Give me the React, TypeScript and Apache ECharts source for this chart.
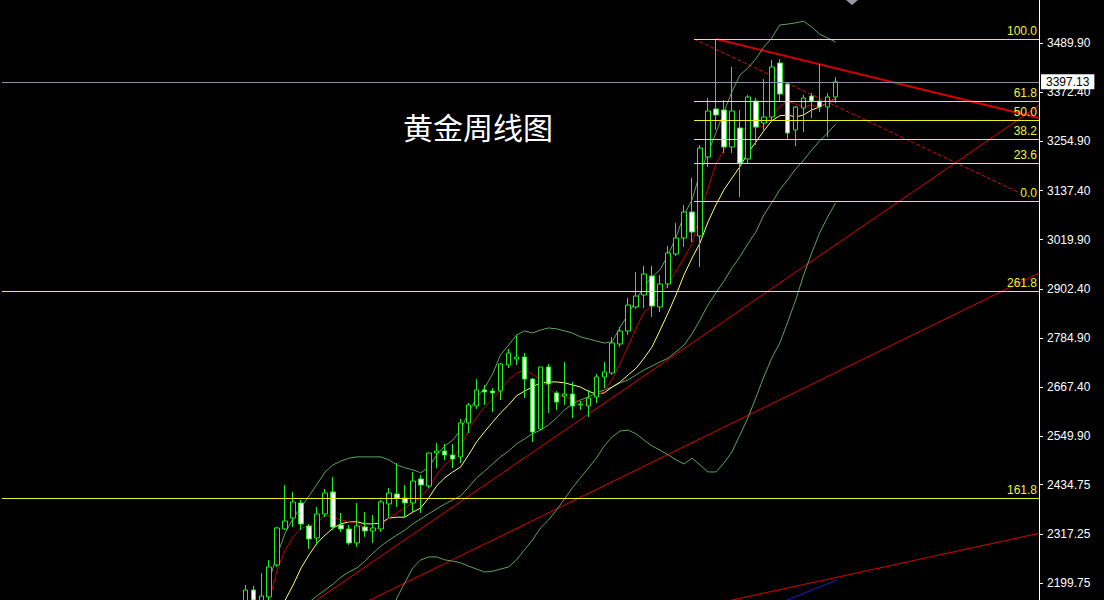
import { useEffect, useRef } from "react";
import * as echarts from "echarts";

const SLOTS = 130;
const FIRST_CANDLE = 30;

const opens = [
  2149.6, 2183.0, 2152.0, 2166.3, 2242.8, 2328.8, 2355.0, 2390.9, 2335.9, 2307.3,
  2364.6, 2417.2, 2338.3, 2328.8, 2295.3, 2333.5, 2324.0, 2328.8, 2388.5, 2412.4,
  2402.8, 2390.9, 2448.2, 2431.5, 2510.3, 2515.1, 2505.6, 2500.8, 2582.0, 2622.6,
  2660.9, 2658.5, 2658.5, 2720.6, 2734.9, 2739.7, 2687.1, 2567.7, 2715.8, 2653.7,
  2646.5, 2651.3, 2625.0, 2622.6, 2644.1, 2691.9, 2701.5, 2770.7, 2801.8, 2859.1,
  2887.8, 2933.2, 2859.1, 2914.1, 2985.8, 3024.0, 3086.1, 3028.8, 3217.5, 3332.2,
  3329.8, 3241.4, 3286.8, 3212.7, 3351.3, 3298.7, 3313.1, 3442.1, 3391.9, 3282.0,
  3334.6, 3363.2, 3351.3, 3337.0, 3360.9,
];
const closes = [
  2183.0, 2159.1, 2168.7, 2238.0, 2331.2, 2347.9, 2393.3, 2340.7, 2304.9, 2364.6,
  2414.8, 2333.5, 2328.8, 2295.3, 2335.9, 2324.0, 2331.2, 2393.3, 2414.8, 2402.8,
  2390.9, 2443.4, 2433.9, 2510.3, 2515.1, 2505.6, 2496.0, 2582.0, 2625.0, 2660.9,
  2656.1, 2653.7, 2723.0, 2749.2, 2739.7, 2687.1, 2560.5, 2715.8, 2675.2, 2632.2,
  2651.3, 2622.6, 2627.4, 2641.7, 2691.9, 2703.9, 2773.1, 2801.8, 2863.9, 2885.4,
  2938.0, 2861.5, 2914.1, 2988.2, 3024.0, 3086.1, 3038.3, 3239.0, 3327.4, 3317.9,
  3241.4, 3327.4, 3203.2, 3360.9, 3289.2, 3313.1, 3432.5, 3368.0, 3274.8, 3337.0,
  3358.5, 3351.3, 3337.0, 3360.9, 3397.13,
];
const highs = [
  2195.0, 2192.6, 2223.7, 2254.7, 2333.6, 2433.9, 2417.2, 2398.0, 2340.7, 2381.3,
  2424.3, 2453.0, 2367.0, 2338.3, 2390.9, 2369.4, 2362.2, 2398.0, 2426.7, 2486.4,
  2433.9, 2464.9, 2457.8, 2510.3, 2534.2, 2531.8, 2531.8, 2591.6, 2629.8, 2687.1,
  2672.8, 2665.6, 2725.4, 2758.8, 2792.3, 2749.2, 2689.5, 2715.8, 2723.0, 2658.5,
  2727.7, 2680.0, 2634.6, 2660.9, 2699.1, 2727.7, 2787.5, 2811.4, 2880.6, 2942.8,
  2957.1, 2957.1, 2935.6, 3004.9, 3059.8, 3102.8, 3167.3, 3246.2, 3358.5, 3499.4,
  3353.7, 3432.5, 3329.8, 3365.6, 3358.5, 3403.9, 3449.3, 3451.6, 3394.3, 3339.4,
  3365.6, 3370.4, 3439.7, 3370.4, 3408.6,
];
const lows = [
  2140.0, 2144.8, 2147.2, 2159.1, 2238.0, 2326.4, 2333.5, 2326.4, 2281.0, 2290.5,
  2357.4, 2326.4, 2321.6, 2290.5, 2285.8, 2309.6, 2295.3, 2321.6, 2355.0, 2381.3,
  2355.0, 2369.4, 2367.0, 2426.7, 2474.5, 2493.6, 2474.5, 2486.4, 2558.1, 2615.5,
  2625.0, 2608.3, 2637.0, 2713.4, 2720.6, 2641.7, 2536.6, 2565.3, 2605.9, 2613.1,
  2625.0, 2594.0, 2613.1, 2596.3, 2629.8, 2665.6, 2696.7, 2763.6, 2792.3, 2854.4,
  2856.8, 2835.3, 2847.2, 2904.5, 2981.0, 3002.5, 3014.4, 2954.7, 3193.6, 3282.0,
  3227.1, 3227.1, 3121.9, 3203.2, 3246.2, 3282.0, 3301.1, 3348.9, 3258.1, 3243.8,
  3277.2, 3310.7, 3325.0, 3265.3, 3346.5,
];

// red moving average (fast)
const maFastStart = 31;
const maFast = [
  2099, 2131, 2159, 2231, 2279, 2310, 2331, 2336, 2343, 2362,
  2357, 2350, 2346, 2343, 2331, 2324, 2336, 2355, 2367, 2379,
  2391, 2405, 2427, 2458, 2482, 2496, 2525, 2565, 2596, 2620,
  2639, 2661, 2685, 2701, 2709, 2699, 2685, 2668, 2649, 2644,
  2639, 2632, 2637, 2647, 2658, 2687, 2725, 2766, 2809, 2847,
  2862, 2888, 2914, 2945, 2976, 3010, 3081, 3143, 3201, 3234,
  3263, 3284, 3287, 3287, 3292, 3311, 3339, 3351, 3344, 3337,
  3342, 3337, 3347, 3358,
];
// yellow moving average (slow)
const maSlowStart = 34;
const maSlow = [
  2116, 2159, 2195, 2236, 2267, 2295, 2314, 2331, 2341, 2346,
  2346, 2341, 2341, 2343, 2355, 2357, 2357, 2369, 2379, 2403,
  2432, 2451, 2465, 2477, 2506, 2537, 2561, 2584, 2606, 2625,
  2647, 2658, 2668, 2678, 2680, 2680, 2678, 2673, 2668, 2658,
  2651, 2654, 2668, 2680, 2697, 2713, 2737, 2764, 2804, 2845,
  2888, 2936, 2976, 3012, 3062, 3103, 3139, 3167, 3194, 3227,
  3253, 3280, 3304, 3316, 3318, 3313, 3318, 3330, 3337, 3347,
  3358,
];
// Bollinger bands (green)
const bandUpperStart = 33;
const bandUpper = [
  2207, 2267, 2319, 2355, 2381, 2408, 2436, 2465, 2482, 2491,
  2498, 2501, 2501, 2501, 2501, 2494, 2482, 2475, 2470, 2463,
  2477, 2506, 2527, 2541, 2565, 2608, 2642, 2666, 2699, 2745,
  2768, 2792, 2802, 2797, 2804, 2809, 2807, 2802, 2797, 2788,
  2783, 2778, 2773, 2776, 2811, 2842, 2876, 2909, 2931, 2948,
  2983, 3026, 3079, 3115, 3179, 3227, 3275, 3325, 3373, 3413,
  3430, 3452, 3480, 3502, 3533, 3535, 3538, 3542, 3528, 3511,
  3502, 3492,
];
const bandMidStart = 38;
const bandMid = [
  2154, 2169, 2183, 2197, 2214, 2226, 2236, 2252, 2271, 2288,
  2302, 2314, 2326, 2341, 2353, 2365, 2377, 2388, 2398, 2408,
  2429, 2451, 2467, 2484, 2501, 2515, 2532, 2544, 2556, 2565,
  2577, 2594, 2613, 2627, 2637, 2644, 2654, 2661, 2668, 2678,
  2685, 2697, 2709, 2718, 2728, 2737, 2752, 2768, 2795, 2828,
  2864, 2893, 2921, 2952, 2979, 3010, 3038, 3079, 3108, 3139,
  3163, 3189, 3210, 3234, 3256, 3275, 3296,
];
const bandLowerStart = 48;
const bandLower = [
  2111, 2164, 2200, 2236, 2255, 2262, 2262, 2255, 2252, 2248,
  2240, 2233, 2226, 2228, 2233, 2238, 2255, 2279, 2302, 2331,
  2350, 2374, 2400, 2427, 2451, 2474, 2498, 2527, 2549, 2563,
  2565, 2556, 2541, 2527, 2517, 2506, 2494, 2484, 2498, 2482,
  2465, 2465, 2486, 2513, 2553, 2594, 2642, 2692, 2737, 2773,
  2823, 2876, 2936, 2988, 3036, 3074, 3108,
];

const fibStart = 86.25;
const fibLabels = ["100.0", "61.8", "50.0", "38.2", "23.6", "0.0"];
const fibValues = [3499.4, 3351.3, 3305.9, 3260.5, 3203.2, 3112.4];
const extLabels = ["261.8", "161.8"];
const extValues = [2897.4, 2402.1];

const resistanceLine = [[89, 3499.4], [129.5, 3310.7]];
const dashedLine = [[86.25, 3499.4], [127.1, 3131.5]];
const supportLine1 = [[30, 2042.0], [129.5, 3340.5]];
const supportLine2 = [[30, 2013.4], [129.5, 2939.9]];
const supportLine3 = [[85, 2134.0], [129.5, 2318.5]];
const blueLine = [[95.8, 2142.9], [104.2, 2206.9]];

const lastPrice = 3397.13;
const yTicks = [2199.75, 2317.25, 2434.75, 2549.9, 2667.4, 2784.9, 2902.4, 3019.9, 3137.4, 3254.9, 3372.4, 3489.9];
const Y_MIN = 2159.1;
const Y_MAX = 3592.6;
const TITLE = "黄金周线图";

const FONT = "Liberation Sans";
const X_END = SLOTS - 0.5;

function pad(start: number, arr: number[]) {
  const out: (number | null)[] = new Array(SLOTS).fill(null);
  arr.forEach((v, i) => {
    out[start + i] = v;
  });
  return out;
}

function buildOption() {
  const categories = Array.from({ length: SLOTS }, (_, i) => String(i));
  const candleData: any[] = [];
  for (let i = 0; i < SLOTS; i++) {
    const j = i - FIRST_CANDLE;
    if (j >= 0 && j < opens.length) {
      candleData.push([opens[j], closes[j], lows[j], highs[j]]);
    } else {
      candleData.push(["-", "-", "-", "-"]);
    }
  }

  const indicator = (name: string, start: number, arr: number[], color: string) => ({
    name,
    type: "line",
    xAxisIndex: 0,
    yAxisIndex: 0,
    data: pad(start, arr),
    symbol: "none",
    silent: true,
    connectNulls: false,
    lineStyle: { color, width: 1 },
    z: 3,
  });

  const overlay = (name: string, data: number[][], color: string, width: number, type: string = "solid") => ({
    name,
    type: "line",
    xAxisIndex: 1,
    yAxisIndex: 0,
    data,
    symbol: "none",
    silent: true,
    lineStyle: { color, width, type },
    z: 2,
  });

  const levelLabel = {
    show: true,
    position: "insideEndTop",
    formatter: "{b}",
    color: "#f2f23a",
    fontSize: 12,
    fontFamily: FONT,
    distance: 2,
  };

  return {
    animation: false,
    backgroundColor: "#000000",
    grid: { left: 2, right: 65, top: 0, bottom: 0, outerBoundsMode: "none" },
    xAxis: [
      { type: "category", data: categories, show: false, boundaryGap: true },
      { type: "value", min: -0.5, max: X_END, show: false },
    ],
    yAxis: {
      type: "value",
      position: "right",
      min: Y_MIN,
      max: Y_MAX,
      splitLine: { show: false },
      splitArea: { show: false },
      minorTick: { show: false },
      axisLine: { show: true, onZero: false, lineStyle: { color: "#ffffff", width: 1 } },
      axisTick: { show: true, length: 4, lineStyle: { color: "#ffffff" }, customValues: yTicks },
      axisLabel: {
        show: true,
        color: "#ffffff",
        fontSize: 12,
        fontFamily: FONT,
        margin: 8,
        customValues: yTicks,
        formatter: (v: number) => v.toFixed(2),
      },
    },
    graphic: [
      {
        type: "text",
        left: 403,
        top: 111,
        style: { text: TITLE, fill: "#ffffff", fontSize: 30, fontFamily: "Noto Sans CJK SC" },
        z: 10,
      },
      {
        type: "polygon",
        shape: { points: [[846, 0], [858, 0], [852, 5]] },
        style: { fill: "#9a9aa2" },
        z: 10,
      },
    ],
    series: [
      {
        name: "levels",
        type: "line",
        xAxisIndex: 1,
        yAxisIndex: 0,
        data: [[fibStart, fibValues[0]]],
        symbol: "none",
        silent: true,
        z: 1,
        markLine: {
          silent: true,
          symbol: ["none", "none"],
          lineStyle: { color: "#f0f020", width: 1, type: "solid" },
          label: levelLabel,
          data: [
            ...fibValues.map((v, i) => [
              { name: fibLabels[i], coord: [fibStart, v] },
              { coord: [X_END, v] },
            ]),
            ...extValues.map((v, i) => [
              { name: extLabels[i], coord: [-0.5, v] },
              { coord: [X_END, v] },
            ]),
          ],
        },
      },
      overlay("resistance", resistanceLine, "#d00000", 2),
      overlay("channel", dashedLine, "#d81010", 1, "dashed"),
      overlay("support1", supportLine1, "#e00000", 1),
      overlay("support2", supportLine2, "#e00000", 1),
      overlay("support3", supportLine3, "#e00000", 1),
      overlay("blue", blueLine, "#2020c8", 1),
      indicator("bbUpper", bandUpperStart, bandUpper, "#5fa35f"),
      indicator("bbMid", bandMidStart, bandMid, "#5fa35f"),
      indicator("bbLower", bandLowerStart, bandLower, "#5fa35f"),
      indicator("maSlow", maSlowStart, maSlow, "#ffff70"),
      indicator("maFast", maFastStart, maFast, "#c00000"),
      {
        name: "gold",
        type: "candlestick",
        xAxisIndex: 0,
        yAxisIndex: 0,
        data: candleData,
        barWidth: 5,
        silent: true,
        z: 4,
        itemStyle: {
          color: "#000000",
          color0: "#ffffff",
          borderColor: "#22ee22",
          borderColor0: "#22ee22",
          borderWidth: 1,
        },
        markLine: {
          silent: true,
          symbol: ["none", "none"],
          lineStyle: { color: "#8a92a4", width: 1, type: "solid" },
          label: {
            show: true,
            position: "end",
            distance: 2,
            formatter: () => lastPrice.toFixed(2),
            color: "#000000",
            backgroundColor: "#ffffff",
            padding: [2, 5, 1, 5],
            fontSize: 12,
            fontFamily: FONT,
          },
          data: [{ yAxis: lastPrice }],
        },
      },
    ],
  };
}

export default function App() {
  const ref = useRef<HTMLDivElement>(null);
  useEffect(() => {
    if (!ref.current) return;
    const chart = echarts.init(ref.current, undefined, { renderer: "svg" });
    chart.setOption(buildOption() as any);
    return () => {
      chart.dispose();
    };
  }, []);
  return (
    <div
      ref={ref}
      style={{ position: "absolute", left: 0, top: 0, width: 1104, height: 600, background: "#000000" }}
    />
  );
}
